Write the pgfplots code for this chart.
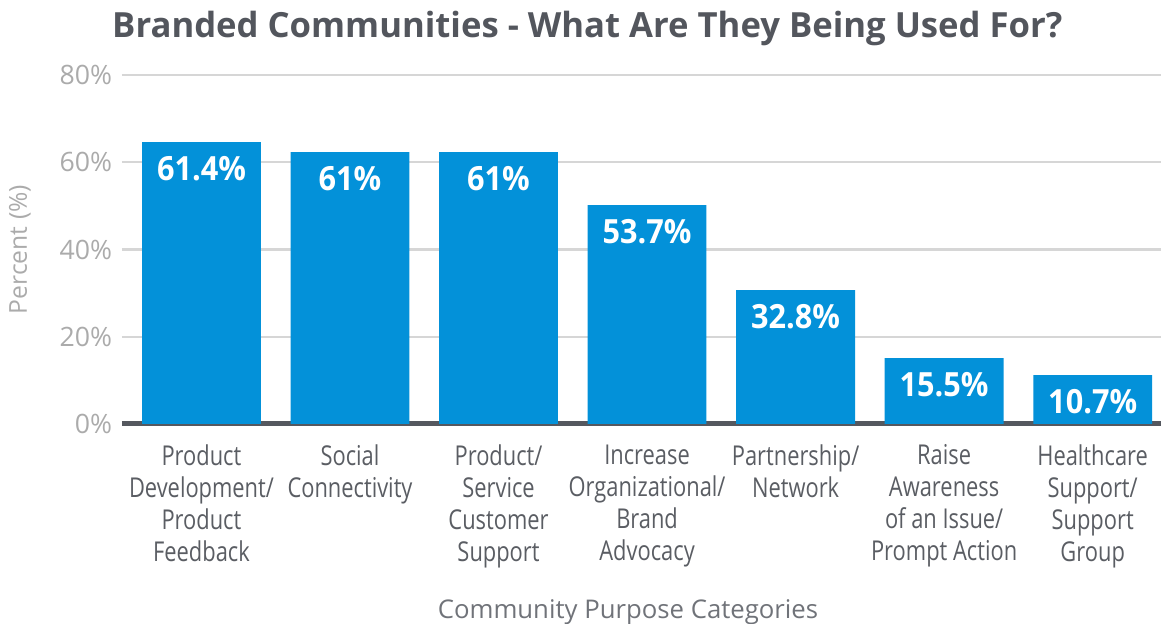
\documentclass[border=0pt]{standalone}
\usepackage{pgfplots}
\pgfplotsset{compat=1.18}
\usepackage{fontspec}
\setmainfont{Open Sans}
\newfontfamily\condfont[FakeStretch=0.8]{Open Sans}
\newfontfamily\condbold[FakeStretch=0.92]{Open Sans}

\definecolor{barblue}{HTML}{0391D9}
\definecolor{titlegray}{HTML}{53565D}
\definecolor{tickgray}{HTML}{ABABAB}
\definecolor{labgray}{HTML}{5A5D63}
\definecolor{xlabgray}{HTML}{707379}
\definecolor{gridgray}{HTML}{D6D6D6}
\definecolor{axisdark}{HTML}{55585F}

\begin{document}
\begin{tikzpicture}
  \begin{axis}[
      at={(0,0)}, anchor=south west,
      scale only axis,
      width=779.25pt, height=261.75pt,
      xmin=-0.535, xmax=6.46,
      ymin=0, ymax=80,
      axis lines*=left,
      y axis line style={draw=none},
      x axis line style={draw=axisdark, line width=3.75pt},
      major tick length=0,
      ytick={0,20,40,60,80},
      yticklabels={0\%,20\%,40\%,60\%,80\%},
      yticklabel style={font=\fontsize{20}{23}\selectfont, text=tickgray, xshift=-4pt},
      ymajorgrids,
      major grid style={draw=gridgray, line width=1.8pt},
      xtick={0,...,6},
      xticklabels={
        {Product\\Development/\\Product\\Feedback},
        {Social\\Connectivity},
        {Product/\\Service\\Customer\\Support},
        {Increase\\Organizational/\\Brand\\Advocacy},
        {Partnership/\\Network},
        {Raise\\Awareness\\of an Issue/\\Prompt Action},
        {Healthcare\\Support/\\Support\\Group}},
      xticklabel style={align=center, anchor=north, yshift=-12pt,
        font=\condfont\fontsize{20.5}{24}\selectfont, text=labgray},
      title={Branded Communities - What Are They Being Used For?},
      every axis title/.style={at={(axis description cs:0,1)}, anchor=center,
        xshift=349pt, yshift=35.25pt,
        font=\bfseries\fontsize{26}{30}\selectfont, text=titlegray},
      xlabel={Community Purpose Categories},
      every axis x label/.style={at={(axis description cs:0,0)}, anchor=center,
        xshift=379.5pt, yshift=-141pt,
        font=\fontsize{19.3}{23}\selectfont, text=xlabgray},
      ylabel={Percent (\%)},
      every axis y label/.style={at={(axis description cs:0,0.5)}, anchor=center,
        xshift=-76.5pt, rotate=90,
        font=\fontsize{18.5}{22}\selectfont, text=tickgray},
      ybar, bar width=0.8,
      nodes near coords,
      point meta=explicit symbolic,
      every node near coord/.append style={anchor=north, yshift=-7pt,
        font=\condbold\bfseries\fontsize{25}{29}\selectfont, text=white},
    ]
    % bar heights as drawn; labels as printed
    \addplot[fill=barblue, draw=none] coordinates {
      (0,64.6) [61.4\%]
      (1,62.3) [61\%]
      (2,62.3) [61\%]
      (3,50.2) [53.7\%]
      (4,30.7) [32.8\%]
      (5,15.1) [15.5\%]
      (6,11.2) [10.7\%]
    };
  \end{axis}
  \pgfresetboundingbox
  \path (-91.5pt,-150pt) rectangle (779.25pt,318pt);
\end{tikzpicture}
\end{document}
